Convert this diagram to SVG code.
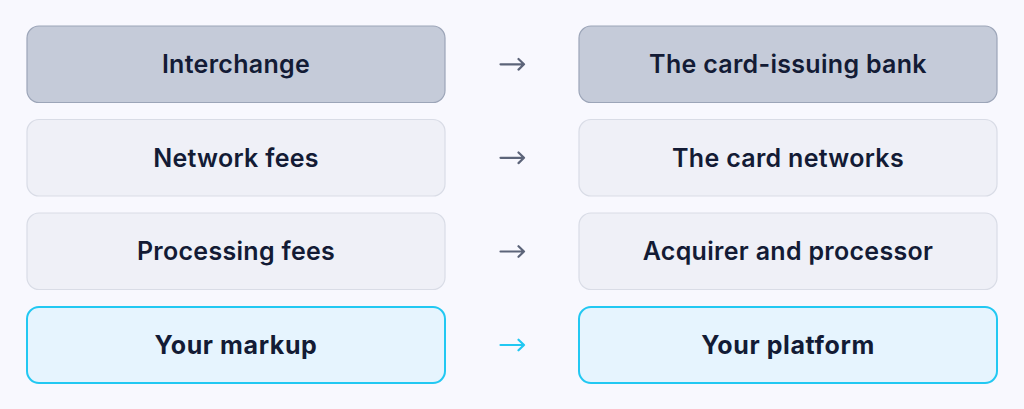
<svg xmlns="http://www.w3.org/2000/svg" width="1024" height="409" viewBox="0 0 1024 409">
<style>
.bg{fill:#f8f8fe}
.box{stroke-width:1.2}
.dark{fill:#c5cbd9;stroke:#9ca5b8}
.light{fill:#eff0f7;stroke:#d9dce6}
.hi{fill:#e6f4fe;stroke:#22c8f2;stroke-width:2}
.t{font-family:Inter,"Open Sans","Liberation Sans",sans-serif;font-size:25px;font-weight:600;letter-spacing:0.3px;fill:#131b35;text-anchor:middle;dominant-baseline:central}
.tb{font-weight:700;letter-spacing:0.6px}
.arr{fill:none;stroke:#5c6479;stroke-width:2.2;stroke-linecap:round;stroke-linejoin:round}
.arr.c{stroke:#22c8f2}
</style>
<rect class="bg" x="0" y="0" width="1024" height="409"/>
<g id="interchange"><rect class="box dark" x="27" y="26" width="418" height="76.5" rx="12"/><text class="t" x="236" y="64.3">Interchange</text></g>
<g id="issuing-bank"><rect class="box dark" x="579" y="26" width="418" height="76.5" rx="12"/><text class="t" x="788" y="64.3">The card-issuing bank</text></g>
<g id="network-fees"><rect class="box light" x="27" y="119.5" width="418" height="76.5" rx="12"/><text class="t" x="236" y="157.8">Network fees</text></g>
<g id="card-networks"><rect class="box light" x="579" y="119.5" width="418" height="76.5" rx="12"/><text class="t" x="788" y="157.8">The card networks</text></g>
<g id="processing-fees"><rect class="box light" x="27" y="213" width="418" height="76.5" rx="12"/><text class="t" x="236" y="251.3">Processing fees</text></g>
<g id="acquirer"><rect class="box light" x="579" y="213" width="418" height="76.5" rx="12"/><text class="t" x="788" y="251.3">Acquirer and processor</text></g>
<g id="your-markup"><rect class="box hi" x="27" y="307" width="418" height="76" rx="12"/><text class="t tb" x="236" y="344.8">Your markup</text></g>
<g id="your-platform"><rect class="box hi" x="579" y="307" width="418" height="76" rx="12"/><text class="t tb" x="788" y="344.8">Your platform</text></g>
<g id="connectors">
<path class="arr" d="M500.5 64.3H524M518.5 59L524 64.3L518.5 69.6"/>
<path class="arr" d="M500.5 157.8H524M518.5 152.5L524 157.8L518.5 163.1"/>
<path class="arr" d="M500.5 251.5H524M518.5 246.2L524 251.5L518.5 256.8"/>
<path class="arr c" d="M500.5 345H524M518.5 339.7L524 345L518.5 350.3"/>
</g>
</svg>
